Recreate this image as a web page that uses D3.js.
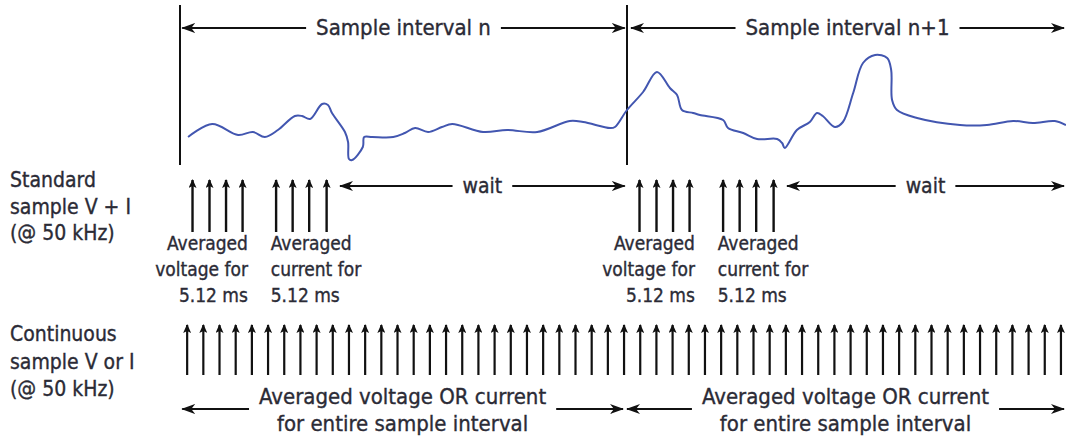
<!DOCTYPE html>
<html>
<head>
<meta charset="utf-8">
<script src="https://cdn.jsdelivr.net/npm/d3@7"></script>
<style>
  body { margin: 0; background: #fff; }
  svg text { font-family: "Liberation Sans Narrow", "DejaVu Sans Condensed", "Liberation Sans", sans-serif; fill: #2b2b36; stroke: #2b2b36; stroke-width: 0.35px; }
</style>
</head>
<body>
<div class="diagram"></div>
<script>
// time is in percent of one sample interval (interval n = 0..100, n+1 = 100..200)
const waveTime = [1.8, 7.2, 13.0, 16.3, 19.0, 21.9, 25.7, 27.3, 29.1, 31.8, 33.1, 34.0, 36.9, 37.6, 37.8, 38.5, 40.9, 41.2, 43.0, 47.7,
    50.3, 52.6, 55.5, 58.6, 60.9, 67.8, 73.2, 79.9, 87.2, 90.2, 96.2, 97.3, 100, 103.6, 106.7, 109.6, 111.2, 112.3, 114.8, 116.3,
    121.5, 122.6, 126.0, 129.1, 133.6, 134.7, 135.3, 138.0, 140.9, 142.5, 143.8, 146.5, 148.3, 150.6, 152.8, 155.5, 158.2, 159.1, 159.3, 160.4,
    164.9, 174.5, 180.5, 186.4, 190.8, 195.7, 198.2];
const waveLevel = [28, 41, 30, 33, 28, 35, 49, 49, 46, 61, 60, 52, 33, 23, 6, 5, 18, 28, 28, 28,
    32, 37, 33, 38, 41, 33, 35, 33, 44, 43, 37, 38, 55, 73, 93, 77, 70, 55, 52, 50,
    45, 37, 32, 26, 26, 22, 17, 35, 43, 52, 49, 38, 43, 72, 102, 110, 107, 95, 65, 55,
    47, 40, 40, 44, 42, 44, 40];

const intervalStarts = [0, 100];
const intervalLabels = ["Sample interval n", "Sample interval n+1"];
const intervalSpans = [[0.5, 99.5], [100.9, 198]];
const waitSpans = [[35.8, 99.5], [135.8, 198]];
const totalSpans = [[0.5, 99.1], [100.0, 198]];

const voltageSampleTimes = [2.8, 6.6, 10.3, 14.0];
const currentSampleTimes = [21.5, 25.2, 28.9, 32.8];
const voltageLabel = ["Averaged", "voltage for", "5.12 ms"];
const currentLabel = ["Averaged", "current for", "5.12 ms"];

const continuousStart = 1.6;
const continuousStep = 3.62;   // 50 kHz
const continuousCount = 55;

const standardRowLabel = ["Standard", "sample V + I", "(@ 50 kHz)"];
const continuousRowLabel = ["Continuous", "sample V or I", "(@ 50 kHz)"];
const totalLabel = ["Averaged voltage OR current", "for entire sample interval"];

const width = 1066;
const height = 442;

let svg = d3.select(".diagram").append("svg")
    .attr("width", width)
    .attr("height", height);

let xScale = d3.scaleLinear()
    .domain([0, 200])
    .range([180, 1074]);
let yScale = d3.scaleLinear()
    .domain([0, 120])
    .range([165, 45]);

// arrowheads
const defs = svg.append("defs");
defs.append("marker")
    .attr("id", "head")
    .attr("markerUnits", "userSpaceOnUse")
    .attr("viewBox", "0 0 14 10")
    .attr("refX", 13).attr("refY", 5)
    .attr("markerWidth", 14).attr("markerHeight", 10)
    .attr("orient", "auto-start-reverse")
    .append("path")
    .attr("d", "M0,0 L14,5 L0,10 L4,5 Z")
    .attr("fill", "#111");
defs.append("marker")
    .attr("id", "tick-head")
    .attr("markerUnits", "userSpaceOnUse")
    .attr("viewBox", "0 0 8 10")
    .attr("refX", 4).attr("refY", 1)
    .attr("markerWidth", 8).attr("markerHeight", 10)
    .attr("orient", "0")
    .append("path")
    .attr("d", "M4,0 L8,9 L4,7 L0,9 Z")
    .attr("fill", "#111");

// interval boundaries
svg.selectAll(".boundary")
    .data(intervalStarts)
    .enter()
    .append("line")
    .attr("class", "boundary")
    .attr("x1", d => xScale(d)).attr("x2", d => xScale(d))
    .attr("y1", 5).attr("y2", 165)
    .attr("stroke", "#111")
    .attr("stroke-width", 2);

// two-headed arrow with a text label in the middle
const labelledArrow = (span, lines, y, lineGap, fontSize) => {
    const x0 = xScale(span[0]);
    const x1 = Math.min(xScale(span[1]), width - 2);
    const cx = (x0 + x1) / 2;
    const g = svg.append("g");
    const t = g.append("text")
        .attr("text-anchor", "middle")
        .attr("font-size", fontSize);
    lines.forEach((line, i) => {
        t.append("tspan")
            .attr("x", cx)
            .attr("y", y + i * lineGap)
            .text(line);
    });
    const firstWidth = t.select("tspan").node().getComputedTextLength();
    const ay = lines.length > 1 ? y + 5 : y - 7;
    g.append("line")
        .attr("x1", cx - firstWidth / 2 - 10).attr("x2", x0)
        .attr("y1", ay).attr("y2", ay)
        .attr("stroke", "#111").attr("stroke-width", 2)
        .attr("marker-end", "url(#head)");
    g.append("line")
        .attr("x1", cx + firstWidth / 2 + 10).attr("x2", x1)
        .attr("y1", ay).attr("y2", ay)
        .attr("stroke", "#111").attr("stroke-width", 2)
        .attr("marker-end", "url(#head)");
};

intervalSpans.forEach((span, i) => labelledArrow(span, [intervalLabels[i]], 35, 0, 22));
waitSpans.forEach(span => labelledArrow(span, ["wait"], 193, 0, 21));
totalSpans.forEach(span => labelledArrow(span, totalLabel, 404, 27, 22));

// waveform
const wave = waveTime.map((t, i) => [t, waveLevel[i]]);
svg.append("path")
    .datum(wave)
    .attr("d", d3.line()
        .x(d => xScale(d[0]))
        .y(d => yScale(d[1]))
        .curve(d3.curveCatmullRom.alpha(0.5)))
    .attr("fill", "none")
    .attr("stroke", "#4256b0")
    .attr("stroke-width", 2);

// standard sampling: 4 voltage + 4 current samples per interval
const standardSamples = [];
intervalStarts.forEach(start => {
    voltageSampleTimes.forEach(t => standardSamples.push(start + t));
    currentSampleTimes.forEach(t => standardSamples.push(start + t));
});
svg.selectAll(".std-sample")
    .data(standardSamples)
    .enter()
    .append("line")
    .attr("class", "std-sample")
    .attr("x1", d => xScale(d)).attr("x2", d => xScale(d))
    .attr("y1", 232).attr("y2", 180)
    .attr("stroke", "#111")
    .attr("stroke-width", 2.4)
    .attr("marker-end", "url(#tick-head)");

// continuous sampling
const continuousSamples = d3.range(continuousCount).map(i => continuousStart + i * continuousStep);
svg.selectAll(".cont-sample")
    .data(continuousSamples)
    .enter()
    .append("line")
    .attr("class", "cont-sample")
    .attr("x1", d => xScale(d)).attr("x2", d => xScale(d))
    .attr("y1", 375).attr("y2", 325)
    .attr("stroke", "#111")
    .attr("stroke-width", 2.2)
    .attr("marker-end", "url(#tick-head)");

// labels under the standard samples
const blockLabel = (x, anchor, lines) => {
    const t = svg.append("text")
        .attr("text-anchor", anchor)
        .attr("font-size", 19);
    lines.forEach((line, i) => {
        t.append("tspan").attr("x", x).attr("y", 250 + i * 26).text(line);
    });
};
intervalStarts.forEach(start => {
    blockLabel(xScale(start + 15.2), "end", voltageLabel);
    blockLabel(xScale(start + 20.3), "start", currentLabel);
});

// row labels on the left
const rowLabel = (lines, y0, gap) => {
    const t = svg.append("text").attr("font-size", 21);
    lines.forEach((line, i) => {
        t.append("tspan").attr("x", 10).attr("y", y0 + i * gap).text(line);
    });
};
rowLabel(standardRowLabel, 187, 26.5);
rowLabel(continuousRowLabel, 341, 27.5);
</script>
</body>
</html>
